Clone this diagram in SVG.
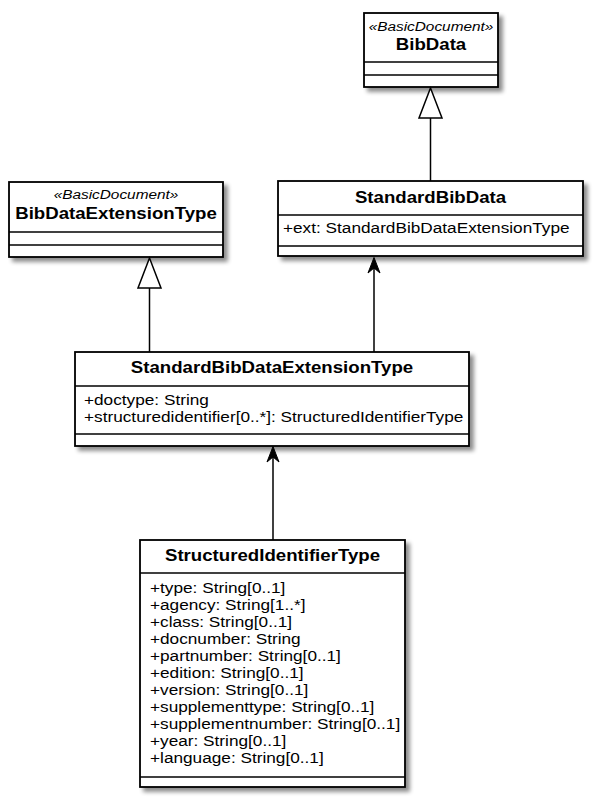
<svg xmlns="http://www.w3.org/2000/svg" width="597" height="803" viewBox="0 0 597 803">
<style>
  .box { fill: #ffffff; stroke: #000000; stroke-width: 1.8; filter: url(#shadow); }
  .div { stroke: #000000; stroke-width: 1.6; fill: none; }
  .title { font-family: "Liberation Sans", Arial, sans-serif; font-size: 16px; font-weight: bold; text-anchor: middle; fill: #000; }
  .stereo { font-family: "Liberation Sans", Arial, sans-serif; font-size: 12.5px; font-style: italic; text-anchor: middle; fill: #000; }
  .attr { font-family: "Liberation Sans", Arial, sans-serif; font-size: 14.6px; fill: #000; }
  .edge { stroke: #000000; stroke-width: 1.5; fill: none; }
  .gen { fill: #ffffff; stroke: #000000; stroke-width: 1.5; }
  .assoc { fill: #000000; stroke: #000000; stroke-width: 1; }
</style>
<defs>
  <filter id="shadow" x="-10%" y="-10%" width="130%" height="130%">
    <feGaussianBlur in="SourceAlpha" stdDeviation="2"/>
    <feOffset dx="4" dy="4" result="b"/>
    <feComponentTransfer><feFuncA type="linear" slope="0.45"/></feComponentTransfer>
    <feMerge><feMergeNode/><feMergeNode in="SourceGraphic"/></feMerge>
  </filter>
</defs>
<rect width="597" height="803" fill="#ffffff"/>

<g id="BibData">
  <rect class="box" x="364" y="13" width="134" height="74"/>
  <text class="stereo" transform="translate(431,31) scale(1.23,1)">«BasicDocument»</text>
  <text class="title" transform="translate(431,50) scale(1.166,1)">BibData</text>
  <line class="div" x1="364" y1="62" x2="498" y2="62"/>
  <line class="div" x1="364" y1="75" x2="498" y2="75"/>
</g>

<g id="StandardBibData">
  <rect class="box" x="278" y="181" width="305" height="75"/>
  <text class="title" transform="translate(430.5,203) scale(1.166,1)">StandardBibData</text>
  <line class="div" x1="278" y1="215" x2="583" y2="215"/>
  <text class="attr" transform="translate(283,233) scale(1.18,1)">+ext: StandardBibDataExtensionType</text>
  <line class="div" x1="278" y1="246" x2="583" y2="246"/>
</g>

<g id="BibDataExtensionType">
  <rect class="box" x="9" y="182" width="214" height="75"/>
  <text class="stereo" transform="translate(116,199) scale(1.23,1)">«BasicDocument»</text>
  <text class="title" transform="translate(116,219) scale(1.166,1)">BibDataExtensionType</text>
  <line class="div" x1="9" y1="232" x2="223" y2="232"/>
  <line class="div" x1="9" y1="245" x2="223" y2="245"/>
</g>

<g id="StandardBibDataExtensionType">
  <rect class="box" x="75" y="352" width="394" height="94"/>
  <text class="title" transform="translate(272,373) scale(1.166,1)">StandardBibDataExtensionType</text>
  <line class="div" x1="75" y1="386" x2="469" y2="386"/>
  <g transform="translate(84,0) scale(1.18,1)">
    <text class="attr" x="0" y="405">+doctype: String</text>
    <text class="attr" x="0" y="422">+structuredidentifier[0..*]: StructuredIdentifierType</text>
  </g>
  <line class="div" x1="75" y1="434" x2="469" y2="434"/>
</g>

<g id="StructuredIdentifierType">
  <rect class="box" x="140" y="540" width="265" height="247"/>
  <text class="title" transform="translate(272.5,561) scale(1.166,1)">StructuredIdentifierType</text>
  <line class="div" x1="140" y1="573" x2="405" y2="573"/>
  <g transform="translate(150,0) scale(1.18,1)">
    <text class="attr" x="0" y="593">+type: String[0..1]</text>
    <text class="attr" x="0" y="610">+agency: String[1..*]</text>
    <text class="attr" x="0" y="627">+class: String[0..1]</text>
    <text class="attr" x="0" y="644">+docnumber: String</text>
    <text class="attr" x="0" y="661">+partnumber: String[0..1]</text>
    <text class="attr" x="0" y="678">+edition: String[0..1]</text>
    <text class="attr" x="0" y="695">+version: String[0..1]</text>
    <text class="attr" x="0" y="712">+supplementtype: String[0..1]</text>
    <text class="attr" x="0" y="729">+supplementnumber: String[0..1]</text>
    <text class="attr" x="0" y="746">+year: String[0..1]</text>
    <text class="attr" x="0" y="763">+language: String[0..1]</text>
  </g>
  <line class="div" x1="140" y1="777" x2="405" y2="777"/>
</g>

<g id="connectors">
  <line class="edge" x1="430.5" y1="181" x2="430.5" y2="118"/>
  <polygon class="gen" points="430.5,88 419,118 442,118"/>
  <line class="edge" x1="149.5" y1="352" x2="149.5" y2="288"/>
  <polygon class="gen" points="149.5,258 138,288 161,288"/>
  <line class="edge" x1="374" y1="352" x2="374" y2="262"/>
  <polygon class="assoc" points="374,257.5 368,273 374,268 380,273"/>
  <line class="edge" x1="273" y1="540" x2="273" y2="451"/>
  <polygon class="assoc" points="273,446.5 267,462 273,457 279,462"/>
</g>
</svg>
